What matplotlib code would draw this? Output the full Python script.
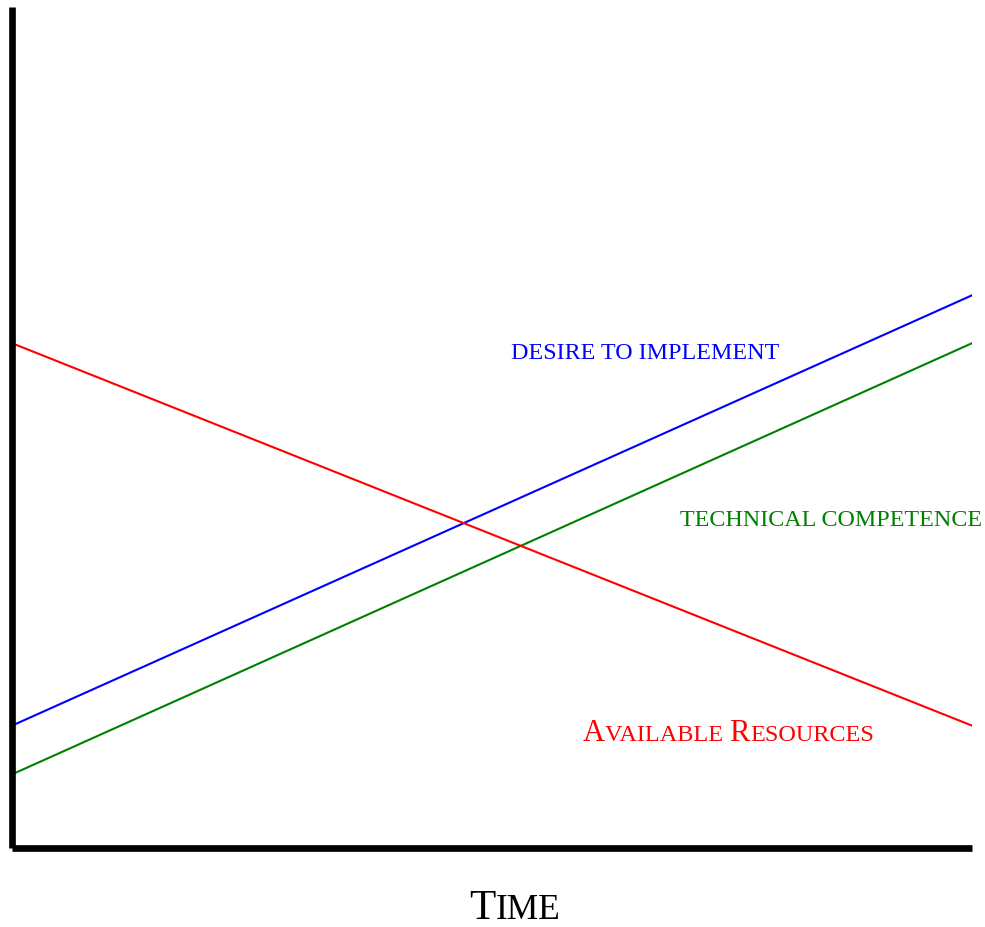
import matplotlib
matplotlib.use("Agg")
import matplotlib.pyplot as plt
from matplotlib.transforms import offset_copy

plt.rcParams['font.family'] = ['Liberation Serif', 'DejaVu Serif']

# data: time runs 0..100, levels in arbitrary units 0..100
time = [0, 100]
desire = [14.5, 65.7]
competence = [8.7, 60.0]
resources = [60.0, 14.5]

BLUE = '#0000ff'
GREEN = '#008000'
RED = '#ff0000'


def small_caps(ax, x, y, parts, color, center=False):
    # draw text pieces one after another on a shared baseline
    fig = ax.figure
    renderer = fig.canvas.get_renderer()
    texts = []
    widths = []
    for s, size in parts:
        t = ax.text(x, y, s, fontsize=size, color=color,
                    ha='left', va='baseline', clip_on=False)
        widths.append(t.get_window_extent(renderer).width * 72.0 / fig.dpi)
        texts.append(t)
    start = -sum(widths) / 2 if center else 0.0
    for t, w in zip(texts, widths):
        t.set_transform(offset_copy(ax.transData, fig=fig, x=start, y=0,
                                    units='points'))
        start += w
    return texts


fig = plt.figure(figsize=(9.85, 9.28), dpi=100)
ax = fig.add_axes([12 / 985, (928 - 848.5) / 928, 960 / 985, 840.5 / 928])

ax.plot(time, desire, color=BLUE, lw=1.5)
ax.plot(time, competence, color=GREEN, lw=1.5)
ax.plot(time, resources, color=RED, lw=1.5)

ax.set_xlim(0, 100)
ax.set_ylim(0, 100)
ax.set_xticks([])
ax.set_yticks([])
for side in ['top', 'right']:
    ax.spines[side].set_visible(False)
for side in ['left', 'bottom']:
    ax.spines[side].set_linewidth(4.8)
    ax.spines[side].set_capstyle('butt')

ax.text(52.0, 58.2, 'DESIRE TO IMPLEMENT', color=BLUE, fontsize=17.3,
        ha='left', va='baseline')
ax.text(69.6, 38.4, 'TECHNICAL COMPETENCE', color=GREEN, fontsize=17.3,
        ha='left', va='baseline', clip_on=False)
small_caps(ax, 59.5, 12.8,
           [('A', 22), ('VAILABLE ', 17.5), ('R', 22), ('ESOURCES', 17.5)], RED)
small_caps(ax, 52.4, -8.4, [('T', 31), ('IME', 25.5)], 'black', center=True)

fig.savefig('out.png', dpi=100)
